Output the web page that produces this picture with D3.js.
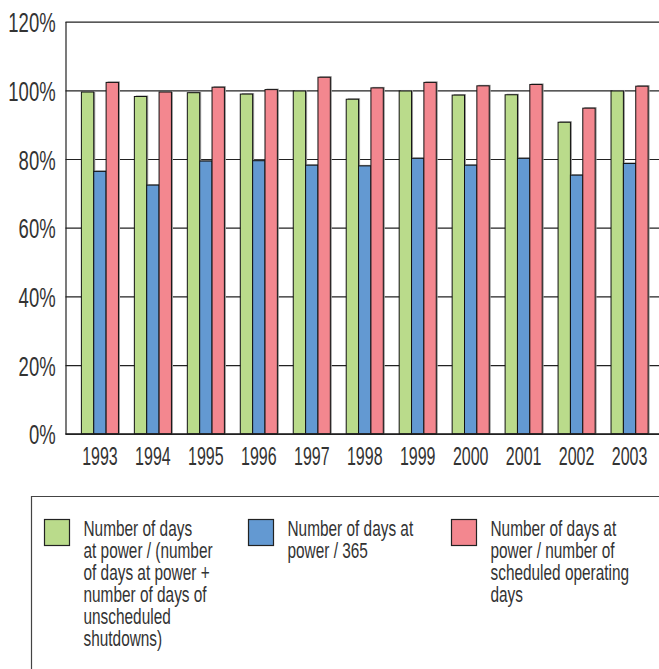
<!DOCTYPE html>
<html lang="en">
  <head>
    <meta charset="UTF-8" />
    <title>Days at power ratios 1993-2003</title>
    <script src="https://d3js.org/d3.v7.min.js"></script>
    <style>
      body {
        margin: 0;
        background: #fff;
        font-family: "Liberation Sans", Arial, sans-serif;
      }
      svg text {
        fill: #333;
      }
    </style>
  </head>
  <body>
    <div id="chart"></div>
    <script>
      // values, in percent
      const years = ["1993", "1994", "1995", "1996", "1997", "1998", "1999", "2000", "2001", "2002", "2003"];
      const greenValues = [99.5, 98.2, 99.3, 98.9, 99.8, 97.4, 99.8, 98.6, 98.7, 90.7, 99.8];
      const blueValues = [76.4, 72.4, 79.4, 79.5, 78.2, 78.0, 80.2, 78.2, 80.2, 75.3, 78.7];
      const redValues = [102.3, 99.5, 100.9, 100.2, 103.8, 100.7, 102.3, 101.3, 101.7, 94.8, 101.2];
      const yTicks = [0, 20, 40, 60, 80, 100, 120];

      const seriesNames = ["green", "blue", "red"];
      const seriesColors = ["#badb8b", "#6399d2", "#f3878f"];
      const legendLines = [
        ["Number of days", "at power / (number", "of days at power +", "number of days of", "unscheduled", "shutdowns)"],
        ["Number of days at", "power / 365"],
        ["Number of days at", "power / number of", "scheduled operating", "days"]
      ];
      const seriesValues = [greenValues, blueValues, redValues];

      const width = 659;
      const height = 669;
      const plotLeft = 65.5;
      const plotTop = 21.6;
      const plotBottom = 433.8;

      const svg = d3
        .select("#chart")
        .append("svg")
        .attr("width", width)
        .attr("height", height);

      const x = d3.scaleBand().domain(years).range([plotLeft, 664]).paddingInner(0.3).paddingOuter(0.3);
      const xSub = d3.scaleBand().domain(seriesNames).range([0, x.bandwidth()]);
      const y = d3.scaleLinear().domain([0, 120]).range([plotBottom, plotTop]);

      // grid lines and left axis
      const yAxis = svg
        .append("g")
        .attr("transform", `translate(${plotLeft},0)`)
        .call(
          d3
            .axisLeft(y)
            .tickValues(yTicks)
            .tickSizeInner(-(width - plotLeft))
            .tickSizeOuter(0)
            .tickFormat((d) => d + "%")
        );
      yAxis.select(".domain").attr("stroke", "#222").attr("stroke-width", 1.2);
      yAxis.selectAll(".tick line").attr("stroke", "#222").attr("stroke-width", 1.2);
      yAxis
        .selectAll(".tick text")
        .attr("x", -15)
        .attr("dy", "0.36em")
        .attr("transform", "scale(0.66,1)")
        .style("font-size", "28px")
        .style("font-family", "'Liberation Sans', Arial, sans-serif")
        .attr("fill", "#333");

      // bars
      const groups = svg
        .selectAll("g.year")
        .data(years)
        .enter()
        .append("g")
        .attr("class", "year")
        .attr("transform", (d) => `translate(${x(d)},0)`);

      seriesNames.forEach((name, si) => {
        // soft grey shadow behind each bar
        groups
          .append("rect")
          .attr("x", xSub(name) + 1.5)
          .attr("y", (d, i) => y(seriesValues[si][i]) - 1)
          .attr("width", xSub.bandwidth())
          .attr("height", (d, i) => plotBottom - y(seriesValues[si][i]) + 1)
          .attr("fill", "#9a9a9a");
      });
      seriesNames.forEach((name, si) => {
        groups
          .append("rect")
          .attr("x", xSub(name))
          .attr("y", (d, i) => y(seriesValues[si][i]))
          .attr("width", xSub.bandwidth())
          .attr("height", (d, i) => plotBottom - y(seriesValues[si][i]))
          .attr("fill", seriesColors[si])
          .attr("stroke", "#111")
          .attr("stroke-width", 1);
      });

      // baseline on top of bars
      svg
        .append("line")
        .attr("x1", plotLeft)
        .attr("x2", width)
        .attr("y1", plotBottom)
        .attr("y2", plotBottom)
        .attr("stroke", "#222")
        .attr("stroke-width", 1.2);

      // year labels
      const xAxis = svg
        .append("g")
        .attr("transform", `translate(0,${plotBottom})`)
        .call(d3.axisBottom(x).tickSize(0));
      xAxis.select(".domain").remove();
      xAxis
        .selectAll(".tick text")
        .attr("y", 31.5)
        .attr("dy", 0)
        .attr("transform", "scale(0.64,1)")
        .style("font-size", "25px")
        .style("font-family", "'Liberation Sans', Arial, sans-serif")
        .attr("fill", "#333");

      // legend box
      svg
        .append("path")
        .attr("d", `M31.5,${height} V496.5 H${width}`)
        .attr("fill", "none")
        .attr("stroke", "#444")
        .attr("stroke-width", 1.2);

      const legendX = [44.5, 248.5, 451.5];
      const legend = svg
        .selectAll("g.legend")
        .data(seriesNames)
        .enter()
        .append("g")
        .attr("class", "legend")
        .attr("transform", (d, i) => `translate(${legendX[i]},519.5)`);

      legend
        .append("rect")
        .attr("width", 25)
        .attr("height", 26)
        .attr("fill", (d, i) => seriesColors[i])
        .attr("stroke", "#222")
        .attr("stroke-width", 1.2);

      legend.each(function (d, i) {
        const t = d3
          .select(this)
          .append("text")
          .attr("transform", "translate(39,16) scale(0.70,1)")
          .style("font-size", "22px")
          .style("font-family", "'Liberation Sans', Arial, sans-serif");
        legendLines[i].forEach((line, li) => {
          t.append("tspan").attr("x", 0).attr("y", li * 22.2).text(line);
        });
      });
    </script>
  </body>
</html>
